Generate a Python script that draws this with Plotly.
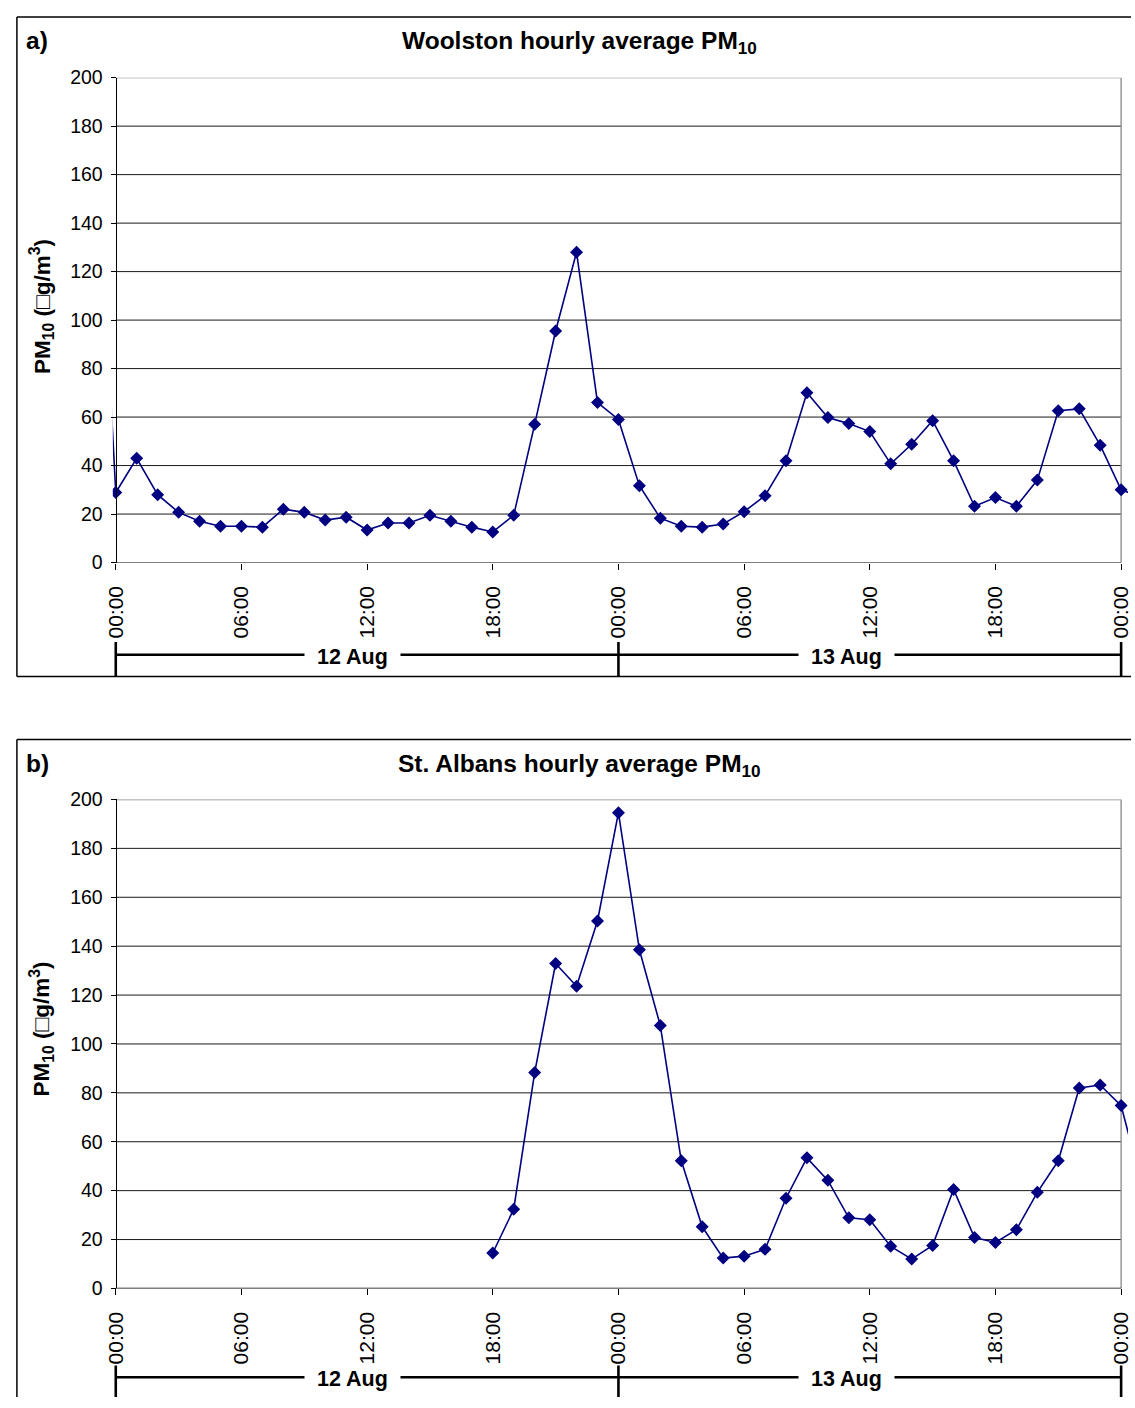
import plotly.graph_objects as go

# ---- data -------------------------------------------------------------
# hours counted from 00:00 on 12 Aug (-1 = 23:00 on 11 Aug, 49 = 01:00 on 14 Aug)
hours = list(range(-1, 50))

woolston_pm10 = [
    193,
    28.9, 43, 28, 20.7, 17, 15, 15, 14.6, 22, 20.7, 17.5, 18.7,
    13.4, 16.3, 16.3, 19.5, 17, 14.6, 12.6, 19.5, 57, 95.5, 128, 66,
    59, 31.7, 18.3, 15, 14.6, 15.9, 21, 27.6, 42, 70, 59.8, 57.3,
    54, 40.7, 48.8, 58.5, 42, 23.2, 26.8, 23.2, 34, 62.6, 63.4, 48.4,
    30,
    27,
]

st_albans_pm10 = [None] * 19 + [
    14.5, 32.4, 88.3, 132.9, 123.6, 150.3,
    194.6, 138.5, 107.5, 52.2, 25.2, 12.4, 13.2, 16, 36.9, 53.4, 44.2, 28.9,
    28.1, 17.2, 12, 17.6, 40.5, 20.8, 18.8, 24, 39.3, 52.2, 82, 83.2,
    74.8,
    42,
]

tick_hours = [0, 6, 12, 18, 24, 30, 36, 42, 48]
tick_labels = ["00:00", "06:00", "12:00", "18:00", "00:00", "06:00", "12:00", "18:00", "00:00"]
grid_values = [20, 40, 60, 80, 100, 120, 140, 160, 180]
y_ticks = [0, 20, 40, 60, 80, 100, 120, 140, 160, 180, 200]
day_labels = ["12 Aug", "13 Aug"]
day_label_hours = [11.3, 34.9]
day_bounds = [0, 24, 48]

panel_titles = [
    "<b>Woolston hourly average PM<sub>10</sub></b>",
    "<b>St. Albans hourly average PM<sub>10</sub></b>",
]
panel_letters = ["<b>a)</b>", "<b>b)</b>"]
y_title = "<b>PM<sub>10</sub> (□g/m<sup>3</sup>)</b>"

# ---- layout geometry (pixels) -----------------------------------------
W, H = 1135, 1408
FONT = "Liberation Sans, Arial, sans-serif"
NAVY = "#000080"


def py(px):
    return 1 - px / H


def px_x(px):
    return px / W


k = 1017 / 48.0           # pixels per hour
left_px, right_px = 105, 1132
x_range = [-(108 - left_px) / k, 48 + (right_px - 1125) / k]

panels = [
    dict(series=woolston_pm10, top=67.7, bottom=560.3, frame_top=6, frame_bot=676,
         bracket=654, tick_top=641, tick_bot=676, title_y=32, letter_y=30, ytitle_y=300),
    dict(series=st_albans_pm10, top=801, bottom=1297.7, frame_top=740, frame_bot=None,
         bracket=1388, tick_top=1376, tick_bot=1408, title_y=766, letter_y=764, ytitle_y=1034),
]

fig = go.Figure()
shapes = []
annotations = []

for i, p in enumerate(panels):
    n = "" if i == 0 else str(i + 1)
    xa, ya = "x" + n, "y" + n

    fig.add_trace(go.Scatter(
        x=hours, y=p["series"], xaxis=xa, yaxis=ya,
        mode="lines+markers",
        line=dict(color=NAVY, width=1.6),
        marker=dict(symbol="diamond", size=10, color=NAVY),
        connectgaps=False, showlegend=False, hoverinfo="x+y",
    ))

    fig.update_layout(**{
        "xaxis" + n: dict(
            domain=[px_x(left_px), px_x(right_px)], range=x_range, anchor=ya,
            tickmode="array", tickvals=tick_hours, ticktext=tick_labels,
            tickangle=-90, ticks="outside", ticklen=6, tickcolor="black",
            tickfont=dict(family=FONT, size=21, color="black"),
            ticklabelstandoff=8, ticklabeloverflow="allow",
            showgrid=False, zeroline=False, showline=False, fixedrange=True,
        ),
        "yaxis" + n: dict(
            domain=[py(p["bottom"]), py(p["top"])], range=[0, 200],
            anchor="free", position=px_x(108),
            tickmode="array", tickvals=y_ticks,
            ticks="outside", ticklen=5, tickcolor="black",
            tickfont=dict(family=FONT, size=19.5, color="black"),
            ticklabelstandoff=4,
            showline=True, linecolor="black", linewidth=1.3,
            showgrid=False, zeroline=False, fixedrange=True,
        ),
    })

    # horizontal gridlines
    for g in grid_values:
        shapes.append(dict(type="line", xref=xa, yref=ya, x0=0, x1=48, y0=g, y1=g,
                           line=dict(color="#1a1a1a", width=1), layer="below"))
    # plot area border (top and right), x-axis line
    shapes.append(dict(type="line", xref=xa, yref=ya, x0=0, x1=48, y0=200, y1=200,
                       line=dict(color="#888888", width=1.3), layer="below"))
    shapes.append(dict(type="line", xref=xa, yref=ya, x0=48, x1=48, y0=0, y1=200,
                       line=dict(color="#888888", width=1.3), layer="below"))
    shapes.append(dict(type="line", xref=xa, yref=ya, x0=0, x1=48, y0=0, y1=0,
                       line=dict(color="black", width=1.3), layer="below"))

    # day bracket beneath the time axis
    shapes.append(dict(type="line", xref=xa, yref="paper", x0=0, x1=48,
                       y0=py(p["bracket"]), y1=py(p["bracket"]),
                       line=dict(color="black", width=2.6)))
    for b in day_bounds:
        shapes.append(dict(type="line", xref=xa, yref="paper", x0=b, x1=b,
                           y0=py(p["tick_top"]), y1=py(p["tick_bot"]),
                           line=dict(color="black", width=2.6)))
    for lab, hx in zip(day_labels, day_label_hours):
        annotations.append(dict(
            xref=xa, yref="paper", x=hx, y=py(p["bracket"] + 2),
            text="&nbsp;&nbsp;<b>" + lab + "</b>&nbsp;&nbsp;", showarrow=False,
            font=dict(family=FONT, size=21.5, color="black"),
            bgcolor="white", borderpad=0, xanchor="center", yanchor="middle",
        ))

    # outer panel frame (open on the right, and at the bottom of panel b)
    frame = dict(color="black", width=1.5)
    ft = p["frame_top"]
    fb = p["frame_bot"] if p["frame_bot"] is not None else H
    shapes.append(dict(type="line", xref="paper", yref="paper",
                       x0=px_x(8), x1=1, y0=py(ft), y1=py(ft), line=frame))
    shapes.append(dict(type="line", xref="paper", yref="paper",
                       x0=px_x(8), x1=px_x(8), y0=py(ft), y1=py(fb), line=frame))
    if p["frame_bot"] is not None:
        shapes.append(dict(type="line", xref="paper", yref="paper",
                           x0=px_x(8), x1=1, y0=py(fb), y1=py(fb), line=frame))

    annotations.append(dict(
        xref="paper", yref="paper", x=px_x(577), y=py(p["title_y"]),
        text=panel_titles[i], showarrow=False,
        font=dict(family=FONT, size=24.5, color="black"),
        xanchor="center", yanchor="middle",
    ))
    annotations.append(dict(
        xref="paper", yref="paper", x=px_x(15), y=py(p["letter_y"]),
        text=panel_letters[i], showarrow=False,
        font=dict(family=FONT, size=24.5, color="black"),
        xanchor="left", yanchor="middle",
    ))
    annotations.append(dict(
        xref="paper", yref="paper", x=px_x(33), y=py(p["ytitle_y"]),
        text=y_title, showarrow=False, textangle=-90,
        font=dict(family=FONT, size=22.5, color="black"),
        xanchor="center", yanchor="middle",
    ))

fig.update_layout(
    width=W, height=H,
    margin=dict(l=0, r=0, t=0, b=0),
    paper_bgcolor="white", plot_bgcolor="rgba(0,0,0,0)",
    shapes=shapes, annotations=annotations,
    showlegend=False,
)

fig.write_html("out.html", config={"displayModeBar": False})
